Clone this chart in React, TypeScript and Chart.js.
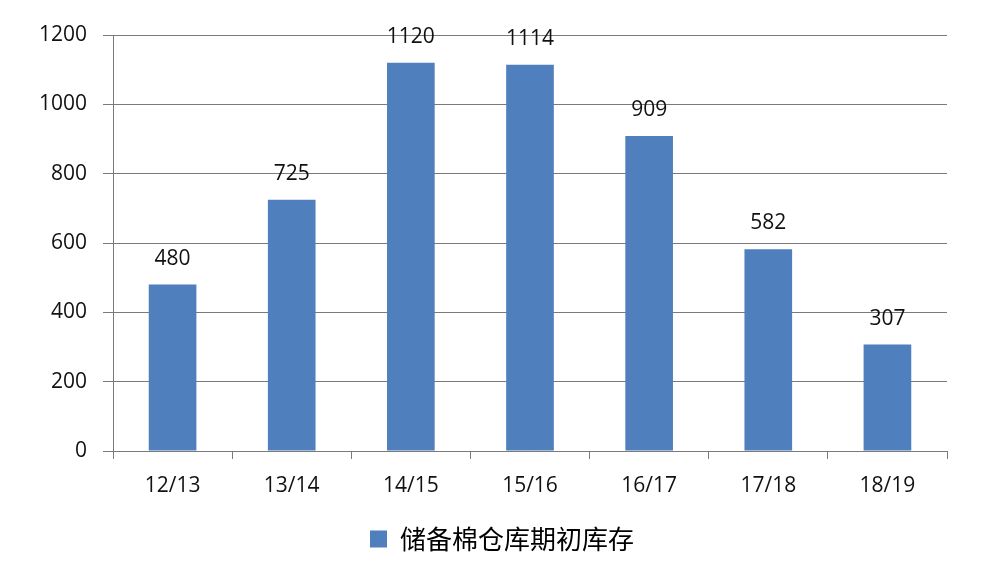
import { useEffect, useRef } from "react";
import { Chart, registerables } from "chart.js";
import type { Plugin } from "chart.js";

Chart.register(...registerables);

const seasons = ["12/13", "13/14", "14/15", "15/16", "16/17", "17/18", "18/19"];
const stock = [480, 725, 1120, 1114, 909, 582, 307];
const seriesName = "储备棉仓库期初库存";

const numFont = "'Open Sans', sans-serif";

// draws the value above each bar
const valueLabels: Plugin<"bar"> = {
  id: "valueLabels",
  afterDatasetsDraw(chart) {
    const ctx = chart.ctx;
    const meta = chart.getDatasetMeta(0);
    ctx.save();
    ctx.font = `21px ${numFont}`;
    ctx.fillStyle = "#111";
    ctx.textAlign = "center";
    ctx.textBaseline = "middle";
    meta.data.forEach((bar, i) => {
      ctx.fillText(String(stock[i]), bar.x, bar.y - 26);
    });
    ctx.restore();
  },
};

export default function App() {
  const canvasRef = useRef<HTMLCanvasElement>(null);
  const chartRef = useRef<Chart | null>(null);

  useEffect(() => {
    document.body.style.margin = "0";
    if (!canvasRef.current) return;
    chartRef.current?.destroy();

    chartRef.current = new Chart(canvasRef.current, {
      type: "bar",
      data: {
        labels: seasons,
        datasets: [
          {
            label: seriesName,
            data: stock,
            backgroundColor: "#4f7fbc",
            borderWidth: 0,
            categoryPercentage: 1,
            barPercentage: 0.4,
          },
        ],
      },
      options: {
        animation: false,
        responsive: true,
        maintainAspectRatio: false,
        layout: { padding: { top: 35, left: 0, right: 0, bottom: 10 } },
        scales: {
          x: {
            offset: true,
            grid: {
              display: true,
              drawOnChartArea: false,
              offset: true,
              color: "#7a7a7a",
              tickLength: 8,
            },
            border: { color: "#7a7a7a", width: 1 },
            ticks: {
              color: "#111",
              padding: 14,
              font: { family: numFont, size: 21 },
            },
            afterFit: (scale) => {
              scale.height = 59;
            },
          },
          y: {
            min: 0,
            max: 1200,
            ticks: {
              stepSize: 200,
              color: "#111",
              padding: 16,
              font: { family: numFont, size: 21 },
              callback: (v) => String(v),
            },
            grid: { color: "#7a7a7a", tickLength: 10 },
            border: { color: "#7a7a7a", width: 1 },
            afterFit: (scale) => {
              scale.width = 113;
            },
          },
          // empty right-hand axis, only to keep space beside the plot
          spacer: {
            type: "linear",
            position: "right",
            grid: { display: false },
            border: { display: false },
            ticks: { display: false },
            afterFit: (scale) => {
              scale.width = 57;
            },
          },
        },
        plugins: {
          legend: {
            display: true,
            position: "bottom",
            labels: {
              boxWidth: 17,
              boxHeight: 17,
              color: "#000",
              padding: 16,
              font: { family: "'Noto Sans CJK SC', sans-serif", size: 26 },
            },
          },
          tooltip: { enabled: false },
        },
      },
      plugins: [valueLabels],
    });

    return () => {
      chartRef.current?.destroy();
      chartRef.current = null;
    };
  }, []);

  return (
    <div style={{ position: "relative", width: 1004, height: 572, background: "#fff" }}>
      <canvas ref={canvasRef} />
    </div>
  );
}
